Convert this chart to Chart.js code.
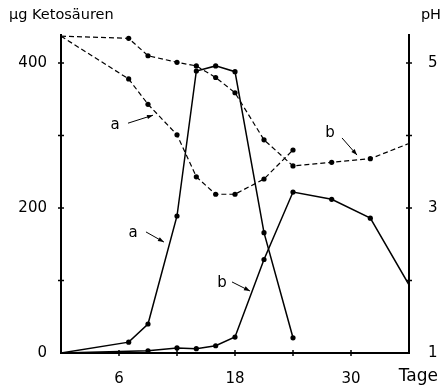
<!DOCTYPE html>
<html><head><meta charset="utf-8">
<script src="https://cdn.jsdelivr.net/npm/chart.js@4/dist/chart.umd.min.js"></script>
<style>html,body{margin:0;padding:0;background:#fff}</style>
</head><body>
<canvas id="c" width="442" height="386"></canvas>
<script>
// ---- data ----
const daysKetoA = [0, 7, 9, 12, 14, 16, 18, 21, 24];
const ketoA     = [0, 15, 40, 189, 389, 396, 388, 166, 21];
const daysKetoB = [0, 9, 12, 14, 16, 18, 21, 24, 28, 32, 36];
const ketoB     = [0, 3, 7, 6, 10, 22, 129, 222, 212, 186, 94];
const daysPhA   = [0, 7, 9, 12, 14, 16, 18, 21, 24];
const phA       = [5.37, 4.78, 4.43, 4.01, 3.43, 3.19, 3.19, 3.40, 3.80];
const daysPhB   = [0, 7, 9, 12, 14, 16, 18, 21, 24, 28, 32, 36];
const phB       = [5.37, 5.34, 5.10, 5.01, 4.96, 4.80, 4.59, 3.94, 3.58, 3.63, 3.68, 3.89];
const xTickValues     = [6, 12, 18, 24, 30, 36];
const xTickLabels     = [6, 18, 30];
const leftTickValues  = [0, 100, 200, 300, 400];
const leftTickLabels  = [0, 200, 400];
const rightTickValues = [1, 2, 3, 4, 5];
const rightTickLabels = [1, 3, 5];
const leftTitle = 'µg Ketosäuren';
const rightTitle = 'pH';
const xTitle = 'Tage';
// curve labels: text, label position and arrow (in days / µg units)
const curveLabels = [
  {text: 'a', x: 5.6,  y: 314, ax1: 6.93, ay1: 317, ax2: 9.52, ay2: 328},
  {text: 'a', x: 7.45, y: 165, ax1: 8.79, ay1: 167, ax2: 10.65, ay2: 153},
  {text: 'b', x: 16.66, y: 96, ax1: 17.69, ay1: 98, ax2: 19.55, ay2: 85.5},
  {text: 'b', x: 27.83, y: 303, ax1: 29.07, ay1: 296.6, ax2: 30.62, ay2: 273}
];

const pts = (xs, ys) => xs.map((x, i) => ({x, y: ys[i]}));
const FONT = 'DejaVu Sans';
const radiusFn = ctx => (ctx.raw && (ctx.raw.x === 0 || ctx.raw.x === 36)) ? 0 : 2.6;

const solid = {borderColor: '#000', backgroundColor: '#000', borderWidth: 1.5,
  pointRadius: radiusFn, pointBackgroundColor: '#000', pointBorderWidth: 0, tension: 0, fill: false};
const dashed = Object.assign({}, solid, {borderDash: [5, 3], borderWidth: 1.2, yAxisID: 'y2'});

const overlay = {
  id: 'overlay',
  afterDraw(chart) {
    const ctx = chart.ctx, a = chart.chartArea;
    const sx = chart.scales.x, sy = chart.scales.y, sy2 = chart.scales.y2;
    ctx.save();
    ctx.strokeStyle = '#000';
    ctx.fillStyle = '#000';
    ctx.lineWidth = 2;
    ctx.beginPath();
    ctx.moveTo(a.left, a.top); ctx.lineTo(a.left, a.bottom); ctx.lineTo(a.right, a.bottom); ctx.lineTo(a.right, a.top);
    ctx.stroke();
    ctx.lineWidth = 1.5;
    ctx.beginPath();
    leftTickValues.forEach(v => { const y = sy.getPixelForValue(v); if (v > 0) { ctx.moveTo(a.left - 3, y); ctx.lineTo(a.left + 3, y); } });
    rightTickValues.forEach(v => { const y = sy2.getPixelForValue(v); if (v > 1) { ctx.moveTo(a.right - 3, y); ctx.lineTo(a.right + 3, y); } });
    xTickValues.forEach(v => { const x = sx.getPixelForValue(v); if (v < 36) { ctx.moveTo(x, a.bottom - 3); ctx.lineTo(x, a.bottom + 3); } });
    ctx.stroke();
    // titles
    ctx.font = '14.5px "' + FONT + '"';
    ctx.textBaseline = 'alphabetic';
    ctx.textAlign = 'left';
    ctx.fillText(leftTitle, 9, 19);
    ctx.textAlign = 'right';
    ctx.fillText(rightTitle, 441, 19);
    ctx.font = '17px "' + FONT + '"';
    ctx.fillText(xTitle, 438, 381);
    // curve labels
    ctx.font = '15px "' + FONT + '"';
    ctx.textAlign = 'center';
    ctx.textBaseline = 'middle';
    ctx.lineWidth = 1;
    curveLabels.forEach(l => {
      ctx.fillText(l.text, sx.getPixelForValue(l.x), sy.getPixelForValue(l.y));
      const x1 = sx.getPixelForValue(l.ax1), y1 = sy.getPixelForValue(l.ay1);
      const x2 = sx.getPixelForValue(l.ax2), y2 = sy.getPixelForValue(l.ay2);
      ctx.beginPath(); ctx.moveTo(x1, y1); ctx.lineTo(x2, y2); ctx.stroke();
      const ang = Math.atan2(y2 - y1, x2 - x1), L = 6, W = 2.2;
      ctx.beginPath();
      ctx.moveTo(x2, y2);
      ctx.lineTo(x2 - L * Math.cos(ang) + W * Math.sin(ang), y2 - L * Math.sin(ang) - W * Math.cos(ang));
      ctx.lineTo(x2 - L * Math.cos(ang) - W * Math.sin(ang), y2 - L * Math.sin(ang) + W * Math.cos(ang));
      ctx.closePath(); ctx.fill();
    });
    ctx.restore();
  }
};

const tickFont = {family: FONT, size: 15};
new Chart(document.getElementById('c'), {
  type: 'line',
  data: {
    datasets: [
      Object.assign({label: 'Ketosäuren a', data: pts(daysKetoA, ketoA), yAxisID: 'y'}, solid),
      Object.assign({label: 'Ketosäuren b', data: pts(daysKetoB, ketoB), yAxisID: 'y'}, solid),
      Object.assign({label: 'pH a', data: pts(daysPhA, phA)}, dashed),
      Object.assign({label: 'pH b', data: pts(daysPhB, phB)}, dashed)
    ]
  },
  options: {
    responsive: false,
    animation: false,
    devicePixelRatio: 1,
    layout: {padding: {top: 34, left: 0, right: 0, bottom: 0}},
    plugins: {legend: {display: false}, tooltip: {enabled: false}},
    scales: {
      x: {
        type: 'linear', min: 0, max: 36,
        grid: {display: false}, border: {display: false},
        afterBuildTicks: s => { s.ticks = xTickValues.map(v => ({value: v})); },
        afterFit: s => { s.height = 33; },
        ticks: {color: '#000', font: tickFont, padding: 9, maxRotation: 0, autoSkip: false,
          callback: v => xTickLabels.includes(v) ? String(v) : ''}
      },
      y: {
        position: 'left', min: 0, max: 440,
        grid: {display: false}, border: {display: false},
        afterBuildTicks: s => { s.ticks = leftTickValues.map(v => ({value: v})); },
        afterFit: s => { s.width = 61; },
        ticks: {color: '#000', font: tickFont, padding: 6, autoSkip: false,
          callback: v => leftTickLabels.includes(v) ? String(v) : ''}
      },
      y2: {
        position: 'right', min: 1, max: 5.4,
        grid: {display: false}, border: {display: false},
        afterBuildTicks: s => { s.ticks = rightTickValues.map(v => ({value: v})); },
        afterFit: s => { s.width = 33; },
        ticks: {color: '#000', font: tickFont, padding: 11, autoSkip: false,
          callback: v => rightTickLabels.includes(v) ? String(v) : ''}
      }
    }
  },
  plugins: [overlay]
});
</script>
</body></html>
